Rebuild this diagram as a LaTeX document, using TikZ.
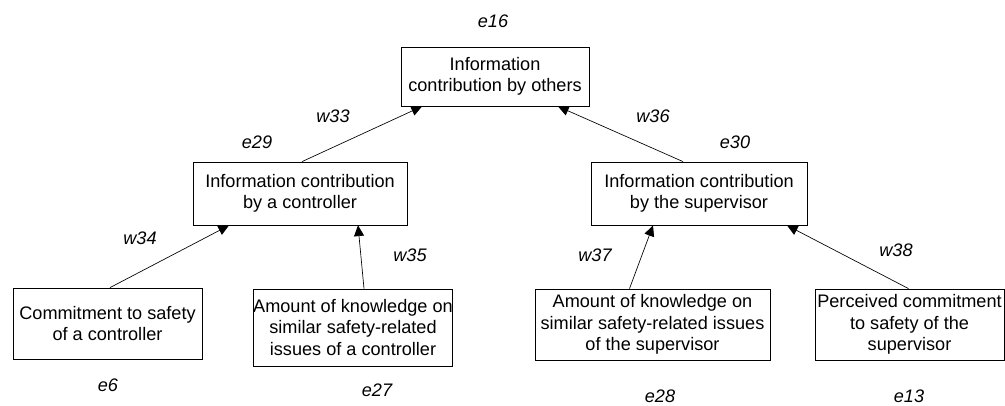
\documentclass[tikz,border=0pt]{standalone}
\usepackage{fontspec}
\setmainfont{Liberation Sans}
\usetikzlibrary{arrows.meta,calc}
\begin{document}
\begin{tikzpicture}[x=0.75pt,y=-0.75pt,
  box/.style={draw,line width=0.6pt,align=center,inner sep=0pt,font=\fontsize{13.6}{16}\selectfont},
  lbl/.style={font=\fontsize{13.6}{16}\selectfont\itshape,inner sep=0pt},
  arr/.style={line width=0.5pt,-{Triangle[length=8pt,width=7.5pt]}}]
\useasboundingbox (0,0) rectangle (1005,405);
\node[box,minimum width=141pt,minimum height=44.25pt] (top) at (495,76.5) {Information\\contribution by others};
\node[box,minimum width=160.5pt,minimum height=47.25pt] (lm) at (300,193.5) {Information contribution\\by a controller};
\node[box,minimum width=162pt,minimum height=47.25pt] (rm) at (699,193.5) {Information contribution\\by the supervisor};
\node[box,minimum width=141.75pt,minimum height=53.25pt] (cs) at (107.5,323.5) {Commitment to safety\\of a controller};
\node[box,minimum width=142.5pt,minimum height=57.75pt] (ac) at (353,327.5) {Amount of knowledge on\\similar safety-related\\issues of a controller};
\node[box,minimum width=176.25pt,minimum height=53.25pt] (as) at (652.5,324.5) {Amount of knowledge on\\similar safety-related issues\\of the supervisor};
\node[box,minimum width=141.75pt,minimum height=53.25pt] (pc) at (909.5,324.5) {Perceived commitment\\to safety of the\\supervisor};
\node[lbl] (e16) at (493,21) {e16};
\node[lbl] (e29) at (257,142) {e29};
\node[lbl] (e30) at (735,142) {e30};
\node[lbl] (e6) at (108,385) {e6};
\node[lbl] (e27) at (377,390) {e27};
\node[lbl] (e28) at (660,396) {e28};
\node[lbl] (e13) at (909,396) {e13};
\node[lbl] (w33) at (333,116) {w33};
\node[lbl] (w36) at (653,116) {w36};
\node[lbl] (w34) at (140,238) {w34};
\node[lbl] (w35) at (410,255) {w35};
\node[lbl] (w37) at (595,255) {w37};
\node[lbl] (w38) at (896,250) {w38};
\draw[arr] ($(lm.north)+(2,0)$) -- ($(top.south)+(-73,0)$);
\draw[arr] ($(rm.north)+(-16,0)$) -- ($(top.south)+(63,0)$);
\draw[arr] ($(cs.north)+(2.5,0)$) -- ($(lm.south)+(-71,0)$);
\draw[arr] ($(ac.north)+(11,0)$) -- ($(lm.south)+(58,0)$);
\draw[arr] ($(as.north)+(-23,0)$) -- ($(rm.south)+(-46,0)$);
\draw[arr] ($(pc.north)+(-1,0)$) -- ($(rm.south)+(88,0)$);
\end{tikzpicture}
\end{document}
